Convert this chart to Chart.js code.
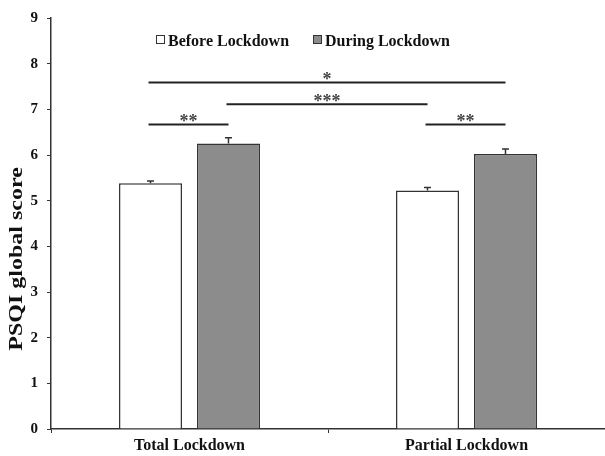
<!DOCTYPE html>
<html>
<head>
<meta charset="utf-8">
<script src="https://cdn.jsdelivr.net/npm/chart.js@4"></script>
<style>
  html, body { margin: 0; padding: 0; background: #fff; }
  #wrap { width: 605px; height: 456px; }
</style>
</head>
<body>
<div id="wrap"><canvas id="chart"></canvas></div>
<script>
const CATEGORIES = ['Total Lockdown', 'Partial Lockdown'];
const SERIES = ['Before Lockdown', 'During Lockdown'];
const BEFORE = [5.38, 5.22];
const DURING = [6.25, 6.02];
const BEFORE_ERR = [0.05, 0.07];
const DURING_ERR = [0.13, 0.11];
const Y_TICKS = [0, 1, 2, 3, 4, 5, 6, 7, 8, 9];
// significance brackets: [dataset, category] -> [dataset, category], height, stars
const SIG_FROM = [[0, 0], [1, 0], [0, 0], [0, 1]];
const SIG_TO = [[1, 1], [0, 1], [1, 0], [1, 1]];
const SIG_Y = [7.59, 7.11, 6.67, 6.67];
const SIG_LABEL = ['*', '***', '**', '**'];

const SERIF = "'Liberation Serif', 'Times New Roman', serif";
const INK = '#333';

// error bars on top of each bar
const errorBars = {
  id: 'errorBars',
  afterDatasetsDraw(chart) {
    const { ctx, scales: { y } } = chart;
    const errs = [BEFORE_ERR, DURING_ERR];
    ctx.save();
    ctx.strokeStyle = INK;
    ctx.lineWidth = 1.5;
    chart.data.datasets.forEach((ds, di) => {
      chart.getDatasetMeta(di).data.forEach((bar, i) => {
        const top = y.getPixelForValue(ds.data[i] + errs[di][i]);
        ctx.beginPath();
        ctx.moveTo(bar.x, bar.y);
        ctx.lineTo(bar.x, top);
        ctx.moveTo(bar.x - 3.5, top);
        ctx.lineTo(bar.x + 3.5, top);
        ctx.stroke();
      });
    });
    ctx.restore();
  }
};

// significance lines with stars
const sigLines = {
  id: 'sigLines',
  afterDatasetsDraw(chart) {
    const { ctx, scales: { y } } = chart;
    const barX = (p) => chart.getDatasetMeta(p[0]).data[p[1]].x;
    ctx.save();
    SIG_LABEL.forEach((label, i) => {
      const x1 = barX(SIG_FROM[i]) - 2;
      const x2 = barX(SIG_TO[i]);
      const py = y.getPixelForValue(SIG_Y[i]);
      ctx.strokeStyle = '#222';
      ctx.lineWidth = 2;
      ctx.beginPath();
      ctx.moveTo(x1, py);
      ctx.lineTo(x2, py);
      ctx.stroke();
      ctx.fillStyle = '#444';
      ctx.font = 'bold 18px ' + SERIF;
      ctx.textAlign = 'center';
      ctx.textBaseline = 'alphabetic';
      ctx.fillText(label, (x1 + x2) / 2, py + 3);
    });
    ctx.restore();
  }
};

// legend boxes and y title, drawn by hand to sit like the original
const decorations = {
  id: 'decorations',
  afterDraw(chart) {
    const { ctx } = chart;
    const fills = ['#ffffff', '#8c8c8c'];
    const xs = [156, 313];
    ctx.save();
    ctx.font = 'bold 16px ' + SERIF;
    ctx.textAlign = 'left';
    ctx.textBaseline = 'alphabetic';
    SERIES.forEach((name, i) => {
      ctx.fillStyle = fills[i];
      ctx.strokeStyle = INK;
      ctx.lineWidth = 1;
      ctx.fillRect(xs[i] + 0.5, 35.5, 8, 8);
      ctx.strokeRect(xs[i] + 0.5, 35.5, 8, 8);
      ctx.fillStyle = '#111';
      ctx.fillText(name, xs[i] + 12, 46);
    });
    ctx.translate(17, 259);
    ctx.rotate(-Math.PI / 2);
    ctx.scale(1, 0.8);
    ctx.font = 'bold 24px ' + SERIF;
    ctx.textAlign = 'center';
    ctx.textBaseline = 'middle';
    ctx.fillText('PSQI global score', 0, 0);
    ctx.restore();
  }
};

new Chart(document.getElementById('chart'), {
  type: 'bar',
  data: {
    labels: CATEGORIES,
    datasets: [
      { label: SERIES[0], data: BEFORE, backgroundColor: '#ffffff', borderColor: INK, borderWidth: 1.5 },
      { label: SERIES[1], data: DURING, backgroundColor: '#8c8c8c', borderColor: INK, borderWidth: 1.5 }
    ]
  },
  options: {
    responsive: true,
    maintainAspectRatio: false,
    animation: false,
    categoryPercentage: 0.563,
    barPercentage: 0.808,
    layout: { padding: { top: 18, right: 0, left: 0, bottom: 0 } },
    plugins: { legend: { display: false }, tooltip: { enabled: false } },
    scales: {
      x: {
        grid: { offset: true, drawOnChartArea: false, drawTicks: true, tickLength: 4, color: INK },
        border: { color: INK, width: 1.5 },
        ticks: { color: '#111', font: { family: SERIF, size: 16, weight: 'bold' }, padding: 3 },
        afterFit: (s) => { s.height = 27; }
      },
      y: {
        min: 0,
        max: 9,
        afterBuildTicks: (s) => { s.ticks = Y_TICKS.map(v => ({ value: v })); },
        grid: { drawOnChartArea: false, drawTicks: true, tickLength: 4, color: INK },
        border: { color: INK, width: 1.5 },
        ticks: { color: '#111', font: { family: SERIF, size: 15, weight: 'bold' }, padding: 9 },
        afterFit: (s) => { s.width = 51; }
      }
    }
  },
  plugins: [errorBars, sigLines, decorations]
});
</script>
</body>
</html>
